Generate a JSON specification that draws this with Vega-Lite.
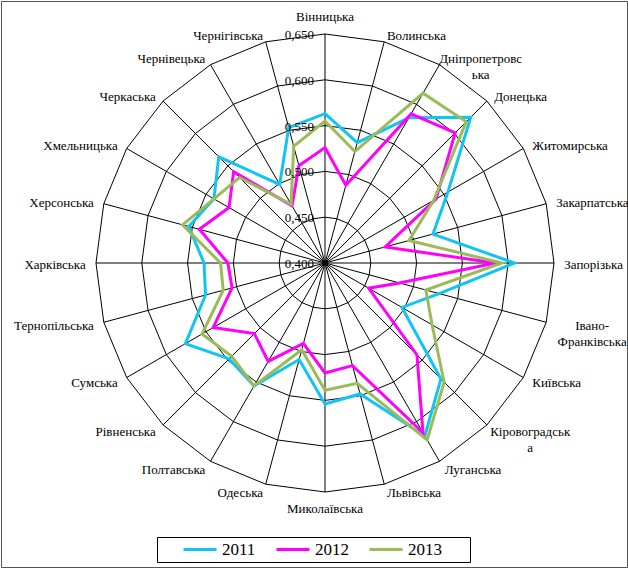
{
  "$schema": "https://vega.github.io/schema/vega-lite/v6.json",
  "width": 626,
  "height": 566,
  "autosize": "none",
  "padding": {"left": 1, "top": 1, "right": 1, "bottom": 2},
  "background": "white",
  "config": {
    "view": {"stroke": "#555", "strokeWidth": 1},
    "font": "Liberation Serif",
    "locale": {"number": {"decimal": ",", "thousands": " ", "grouping": [3], "currency": ["", ""]}}
  },
  "datasets": {
    "regions": [
      {"region": "Вінницька", "2011": 0.563, "2012": 0.526, "2013": 0.555},
      {"region": "Волинська", "2011": 0.536, "2012": 0.488, "2013": 0.526},
      {"region": "Дніпропетровська", "2011": 0.583, "2012": 0.588, "2013": 0.614},
      {"region": "Донецька", "2011": 0.625, "2012": 0.601, "2013": 0.618},
      {"region": "Житомирська", "2011": 0.555, "2012": 0.540, "2013": 0.537},
      {"region": "Закарпатська", "2011": 0.522, "2012": 0.468, "2013": 0.495},
      {"region": "Запорізька", "2011": 0.607, "2012": 0.586, "2013": 0.593},
      {"region": "Івано-Франківська", "2011": 0.529, "2012": 0.484, "2013": 0.514},
      {"region": "Київська", "2011": 0.497, "2012": 0.455, "2013": 0.535},
      {"region": "Кіровоградська", "2011": 0.579, "2012": 0.542, "2013": 0.584},
      {"region": "Луганська", "2011": 0.618, "2012": 0.614, "2013": 0.623},
      {"region": "Львівська", "2011": 0.548, "2012": 0.516, "2013": 0.536},
      {"region": "Миколаївська", "2011": 0.554, "2012": 0.520, "2013": 0.539},
      {"region": "Одеська", "2011": 0.509, "2012": 0.491, "2013": 0.498},
      {"region": "Полтавська", "2011": 0.555, "2012": 0.524, "2013": 0.555},
      {"region": "Рівненська", "2011": 0.548, "2012": 0.509, "2013": 0.544},
      {"region": "Сумська", "2011": 0.576, "2012": 0.541, "2013": 0.555},
      {"region": "Тернопільська", "2011": 0.535, "2012": 0.505, "2013": 0.515},
      {"region": "Харківська", "2011": 0.532, "2012": 0.506, "2013": 0.514},
      {"region": "Херсонська", "2011": 0.554, "2012": 0.542, "2013": 0.561},
      {"region": "Хмельницька", "2011": 0.540, "2012": 0.521, "2013": 0.540},
      {"region": "Черкаська", "2011": 0.564, "2012": 0.541, "2013": 0.532},
      {"region": "Чернівецька", "2011": 0.499, "2012": 0.472, "2013": 0.474},
      {"region": "Чернігівська", "2011": 0.553, "2012": 0.510, "2013": 0.532}
    ],
    "levels": [
      {"level": 0.4}, {"level": 0.45}, {"level": 0.5}, {"level": 0.55}, {"level": 0.6}, {"level": 0.65}
    ]
  },
  "layer": [
    {
      "data": {"name": "regions"},
      "transform": [
        {"window": [{"op": "row_number", "as": "idx"}]},
        {"calculate": "(datum.idx-1)*PI/12", "as": "a"},
        {"calculate": "[0.45,0.5,0.55,0.6,0.65]", "as": "lv"},
        {"flatten": ["lv"]},
        {"calculate": "(datum.lv-0.4)/0.25*sin(datum.a)", "as": "x"},
        {"calculate": "(datum.lv-0.4)/0.25*cos(datum.a)", "as": "y"}
      ],
      "mark": {"type": "line", "interpolate": "linear-closed", "color": "#000", "strokeWidth": 1},
      "encoding": {
        "x": {"field": "x", "type": "quantitative", "scale": {"domain": [-1.4148, 1.3188], "nice": false, "zero": false}, "axis": null},
        "y": {"field": "y", "type": "quantitative", "scale": {"domain": [-1.3275, 1.1441], "nice": false, "zero": false}, "axis": null},
        "detail": {"field": "lv", "type": "nominal"},
        "order": {"field": "idx", "type": "quantitative"}
      }
    },
    {
      "data": {"name": "regions"},
      "transform": [
        {"window": [{"op": "row_number", "as": "idx"}]},
        {"calculate": "(datum.idx-1)*PI/12", "as": "a"},
        {"calculate": "sin(datum.a)", "as": "x"},
        {"calculate": "cos(datum.a)", "as": "y"},
        {"calculate": "0", "as": "z"}
      ],
      "mark": {"type": "rule", "color": "#000", "strokeWidth": 1},
      "encoding": {
        "x": {"field": "x", "type": "quantitative", "axis": null},
        "y": {"field": "y", "type": "quantitative", "axis": null},
        "x2": {"field": "z"},
        "y2": {"field": "z"}
      }
    },
    {
      "data": {"name": "regions"},
      "transform": [
        {"window": [{"op": "row_number", "as": "idx"}]},
        {"calculate": "(datum.idx-1)*PI/12", "as": "a"},
        {"fold": ["2011", "2012", "2013"], "as": ["year", "value"]},
        {"calculate": "(datum.value-0.4)/0.25*sin(datum.a)", "as": "x"},
        {"calculate": "(datum.value-0.4)/0.25*cos(datum.a)", "as": "y"}
      ],
      "mark": {"type": "line", "interpolate": "linear-closed", "strokeWidth": 3},
      "encoding": {
        "x": {"field": "x", "type": "quantitative", "axis": null},
        "y": {"field": "y", "type": "quantitative", "axis": null},
        "order": {"field": "idx", "type": "quantitative"},
        "color": {
          "field": "year", "type": "nominal",
          "scale": {"domain": ["2011", "2012", "2013"], "range": ["#12C4F4", "#FF00FF", "#9BBB59"]},
          "legend": {
            "orient": "none", "legendX": 156, "legendY": 536, "direction": "horizontal",
            "title": "00", "titleOrient": "left", "titleFontSize": 17, "titleFont": "Liberation Serif", "titleColor": "transparent", "titlePadding": 4,
            "symbolType": "stroke", "symbolSize": 1089, "symbolStrokeWidth": 3, "clipHeight": 17,
            "labelOffset": 4, "labelFont": "Liberation Serif", "labelFontSize": 17, "labelColor": "#000",
            "labelExpr": "datum.label == '2013' ? datum.label + '\u2800\u2800' : datum.label",
            "columnPadding": 19, "padding": 4, "strokeColor": "#000"
          }
        }
      }
    },
    {
      "data": {"name": "levels"},
      "transform": [
        {"calculate": "0", "as": "x"},
        {"calculate": "(datum.level-0.4)/0.25", "as": "y"}
      ],
      "mark": {"type": "text", "align": "right", "baseline": "middle", "dx": -11, "dy": 1, "fontSize": 13, "font": "Liberation Serif", "color": "#000"},
      "encoding": {
        "x": {"field": "x", "type": "quantitative", "axis": null},
        "y": {"field": "y", "type": "quantitative", "axis": null},
        "text": {"field": "level", "type": "quantitative", "format": ".3f"}
      }
    },
    {
      "data": {"name": "regions"},
      "transform": [
        {"window": [{"op": "row_number", "as": "idx"}]},
        {"calculate": "(datum.idx-1)*PI/12", "as": "a"},
        {"calculate": "indexof(datum.region,'-')>=0 ? replace(datum.region,'-','-\\n') : (length(datum.region)>13 ? substring(datum.region,0,13)+'\\n'+substring(datum.region,13) : datum.region)", "as": "label"},
        {"calculate": "1.045*sin(datum.a)", "as": "x"},
        {"calculate": "(abs(sin(datum.a))<0.01 ? 1.075 : 1.035)*cos(datum.a)", "as": "y"}
      ],
      "encoding": {
        "x": {"field": "x", "type": "quantitative", "axis": null},
        "y": {"field": "y", "type": "quantitative", "axis": null},
        "text": {"field": "label", "type": "nominal"}
      },
      "layer": [
        {
          "transform": [{"filter": "abs(sin(datum.a))<0.01"}],
          "mark": {"type": "text", "align": "center", "baseline": "middle", "fontSize": 13, "font": "Liberation Serif", "color": "#000"}
        },
        {
          "transform": [{"filter": "sin(datum.a)>0.01 && indexof(datum.label,'\\n')<0"}],
          "mark": {"type": "text", "align": "left", "baseline": "middle", "dy": 1.5, "fontSize": 13, "font": "Liberation Serif", "color": "#000"}
        },
        {
          "transform": [{"filter": "sin(datum.a)>0.01 && indexof(datum.label,'\\n')>=0"}],
          "mark": {"type": "text", "align": "center", "baseline": "middle", "dx": 36, "dy": 1.5, "lineBreak": "\n", "lineHeight": 16, "fontSize": 13, "font": "Liberation Serif", "color": "#000"}
        },
        {
          "transform": [{"filter": "sin(datum.a)<-0.01"}],
          "mark": {"type": "text", "align": "right", "baseline": "middle", "dy": 1.5, "fontSize": 13, "font": "Liberation Serif", "color": "#000"}
        }
      ]
    }
  ]
}
